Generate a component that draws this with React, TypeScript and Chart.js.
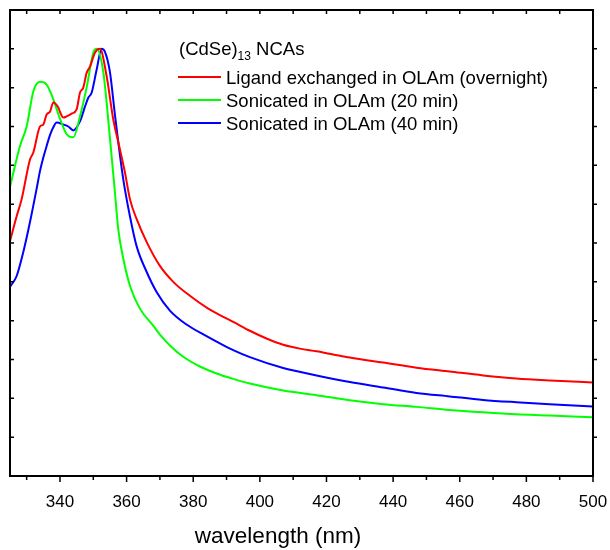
import React, { useEffect, useRef } from "react";
import { Chart, registerables } from "chart.js";

Chart.register(...registerables);

// ---- data ----
const redWl = [325, 327, 328.5, 331, 332, 334, 335, 336, 337, 338, 339.5, 340, 341, 342, 343.5, 345, 346, 347, 348, 349, 350.5, 352, 354, 356, 357.5, 359.5, 361, 363, 366, 370, 374, 379, 384.5, 389, 392, 397, 402, 407, 412, 417, 422, 427, 437, 447, 457, 467, 477, 487, 500];
const redAbs = [6.05, 6.69, 7.13, 8.15, 8.33, 9.0, 9.05, 9.31, 9.38, 9.62, 9.49, 9.38, 9.23, 9.26, 9.33, 9.44, 9.87, 10.0, 10.38, 10.54, 10.9, 11.0, 10.3, 9.18, 8.6, 7.82, 7.13, 6.62, 6.03, 5.41, 5.0, 4.64, 4.31, 4.1, 3.97, 3.74, 3.54, 3.38, 3.28, 3.21, 3.13, 3.05, 2.92, 2.79, 2.69, 2.59, 2.51, 2.46, 2.41];

const greenWl = [325, 328, 330, 332, 334, 336, 338, 340, 342, 344, 346, 348, 350, 351, 353, 355, 356.5, 357.5, 359, 361, 364, 368, 370.6, 373, 377, 382, 387, 392, 397, 407, 417, 427, 437, 447, 457, 467, 477, 487, 500];
const greenAbs = [7.45, 8.5, 9.0, 9.9, 10.15, 10.08, 9.7, 9.2, 8.8, 8.72, 9.26, 10.0, 10.9, 11.0, 10.4, 8.7, 7.3, 6.35, 5.6, 4.9, 4.31, 3.87, 3.58, 3.36, 3.07, 2.82, 2.64, 2.5, 2.38, 2.2, 2.08, 1.95, 1.85, 1.78, 1.7, 1.64, 1.59, 1.56, 1.51];

const blueWl = [325, 327, 329, 331, 333, 334, 335, 336, 337, 338, 339, 341, 342.5, 344, 346, 347.5, 348.5, 349.5, 351, 352.5, 353.5, 355, 356.5, 357.5, 359, 361, 363, 366, 369, 373, 378, 384, 387, 392, 397, 407, 417, 427, 437, 447, 457, 467, 477, 487, 500];
const blueAbs = [4.87, 5.15, 5.77, 6.54, 7.4, 7.85, 8.2, 8.5, 8.78, 8.98, 9.1, 9.05, 9.0, 8.9, 9.13, 9.51, 9.74, 9.87, 10.46, 11.0, 10.92, 10.4, 9.3, 8.6, 7.64, 6.69, 5.92, 5.26, 4.74, 4.26, 3.9, 3.6, 3.46, 3.24, 3.06, 2.78, 2.59, 2.42, 2.28, 2.14, 2.05, 1.96, 1.9, 1.85, 1.79];

const seriesLabels = [
  "Ligand exchanged in OLAm (overnight)",
  "Sonicated in OLAm (20 min)",
  "Sonicated in OLAm (40 min)",
];
const seriesColors = ["#ff0000", "#00ff00", "#0000ff"];
const xTickValues = [340, 360, 380, 400, 420, 440, 460, 480, 500];
const xMin = 325;
const xMax = 500;
const yMin = 0;
const yMax = 12;
const xAxisTitle = "wavelength (nm)";
const legendTitleMain = "(CdSe)";
const legendTitleSub = "13";
const legendTitleEnd = " NCAs";

const FONT = '"Liberation Sans", Arial, Helvetica, sans-serif';

function toPoints(xs: number[], ys: number[]) {
  return xs.map((x, i) => ({ x, y: ys[i] }));
}

const framePlugin = {
  id: "frameAndLegend",
  afterDraw(chart: any) {
    const { ctx, chartArea: a, scales } = chart;
    const xs = scales.x;
    const ys = scales.y;
    ctx.save();
    ctx.strokeStyle = "#000";
    ctx.lineWidth = 2;
    ctx.strokeRect(a.left, a.top, a.right - a.left, a.bottom - a.top);

    ctx.lineWidth = 1.5;
    ctx.beginPath();
    for (let v = 330; v <= 500; v += 10) {
      const px = xs.getPixelForValue(v);
      const len = v % 20 === 0 ? 6 : 4;
      ctx.moveTo(px, a.bottom);
      ctx.lineTo(px, a.bottom + len);
      if (v < 500) {
        ctx.moveTo(px, a.top);
        ctx.lineTo(px, a.top + 4);
      }
    }
    for (let v = yMin + 1; v < yMax; v++) {
      const py = ys.getPixelForValue(v);
      ctx.moveTo(a.left, py);
      ctx.lineTo(a.left + 4, py);
      ctx.moveTo(a.right, py);
      ctx.lineTo(a.right + 4, py);
    }
    ctx.stroke();

    // x-axis title
    ctx.fillStyle = "#000";
    ctx.font = `22.5px ${FONT}`;
    ctx.textAlign = "center";
    ctx.textBaseline = "middle";
    ctx.fillText(xAxisTitle, a.left + 268, 537);

    // legend
    const lx = a.left + 168;
    ctx.textAlign = "left";
    ctx.textBaseline = "alphabetic";
    ctx.font = `18.5px ${FONT}`;
    ctx.fillText(legendTitleMain, lx + 1, a.top + 45);
    let w = ctx.measureText(legendTitleMain).width;
    ctx.font = `12px ${FONT}`;
    ctx.fillText(legendTitleSub, lx + 1 + w, a.top + 50);
    w += ctx.measureText(legendTitleSub).width;
    ctx.font = `18.5px ${FONT}`;
    ctx.fillText(legendTitleEnd, lx + 1 + w, a.top + 45);

    chart.data.datasets.forEach((ds: any, i: number) => {
      const ly = a.top + 67 + i * 23;
      ctx.strokeStyle = ds.borderColor;
      ctx.lineWidth = 2;
      ctx.beginPath();
      ctx.moveTo(lx, ly);
      ctx.lineTo(lx + 43, ly);
      ctx.stroke();
      ctx.fillStyle = "#000";
      ctx.font = `18.5px ${FONT}`;
      ctx.fillText(ds.label, lx + 48, ly + 7);
    });
    ctx.restore();
  },
};

export default function App() {
  const ref = useRef<HTMLCanvasElement | null>(null);

  useEffect(() => {
    document.body.style.margin = "0";
    const canvas = ref.current;
    if (!canvas) return;
    const series = [
      toPoints(redWl, redAbs),
      toPoints(greenWl, greenAbs),
      toPoints(blueWl, blueAbs),
    ];
    const chart = new Chart(canvas, {
      type: "line",
      data: {
        datasets: series.map((pts, i) => ({
          label: seriesLabels[i],
          data: pts,
          borderColor: seriesColors[i],
          backgroundColor: seriesColors[i],
          borderWidth: 2,
          pointRadius: 0,
          fill: false,
          cubicInterpolationMode: "monotone" as const,
        })),
      },
      options: {
        animation: false,
        responsive: false,
        devicePixelRatio: 1,
        layout: { padding: { left: 10, top: 10, right: 17, bottom: 35.6 } },
        plugins: {
          legend: { display: false },
          tooltip: { enabled: false },
          title: { display: false },
        },
        scales: {
          x: {
            type: "linear",
            min: xMin,
            max: xMax,
            afterBuildTicks: (scale: any) => {
              scale.ticks = xTickValues.map((v) => ({ value: v }));
            },
            grid: {
              display: true,
              drawOnChartArea: false,
              drawTicks: true,
              tickLength: 14,
              tickColor: "rgba(0,0,0,0)",
            },
            border: { display: false },
            ticks: {
              color: "#000",
              padding: 2,
              maxRotation: 0,
              autoSkip: false,
              font: { family: FONT, size: 17 },
            },
          },
          y: {
            type: "linear",
            display: false,
            min: yMin,
            max: yMax,
          },
        },
      },
      plugins: [framePlugin],
    });
    return () => chart.destroy();
  }, []);

  return (
    <div style={{ position: "fixed", left: 0, top: 0, width: 610, height: 550, background: "#fff" }}>
      <canvas ref={ref} width={610} height={550} style={{ display: "block" }} />
    </div>
  );
}
